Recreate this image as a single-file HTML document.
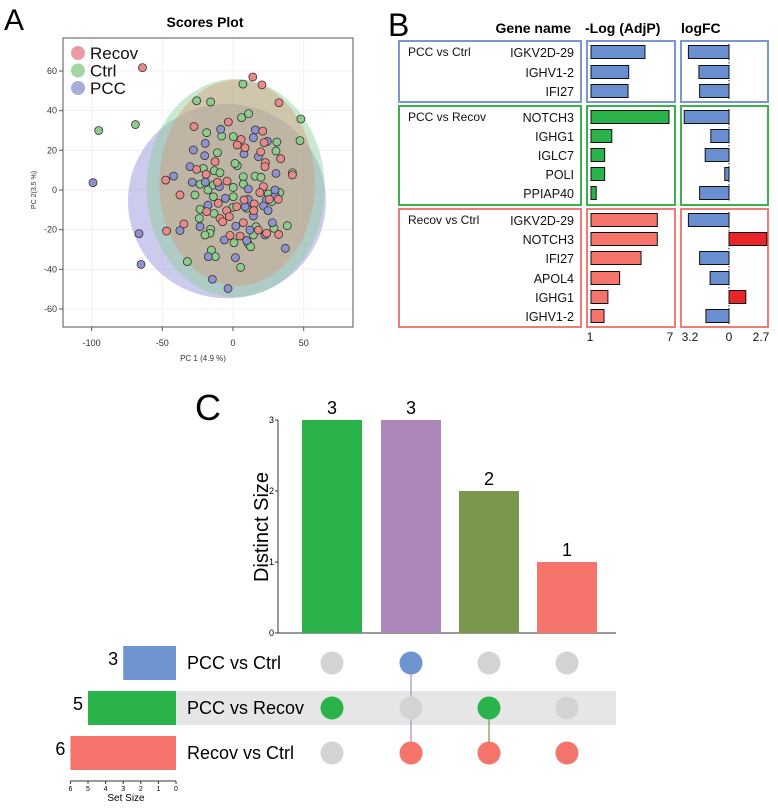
<!DOCTYPE html>
<html><head><meta charset="utf-8"><style>
html,body{margin:0;padding:0;background:#fff}
svg{display:block;font-family:"Liberation Sans",Arial,sans-serif}
</style></head><body>
<svg id="fig" width="778" height="809" viewBox="0 0 778 809" xmlns="http://www.w3.org/2000/svg">
<text x="4" y="30" font-size="30">A</text>
<text x="205" y="27" font-size="14" font-weight="bold" text-anchor="middle">Scores Plot</text>
<text x="388" y="36" font-size="32">B</text>
<text x="571" y="33" font-size="14" font-weight="bold" text-anchor="end">Gene name</text>
<text x="585" y="33" font-size="14" font-weight="bold">-Log (AdjP)</text>
<text x="681" y="33" font-size="14" font-weight="bold">logFC</text>
<text x="195" y="420" font-size="36">C</text>
<g id="pca"></g><g id="genes"></g><g id="upset"></g>
</svg>
<script>
const NS="http://www.w3.org/2000/svg";
function mk(p,t,a){const e=document.createElementNS(NS,t);for(const k in a)e.setAttribute(k,a[k]);p.appendChild(e);return e;}
// ---------- Panel A data ----------
const pcaGroups=["Recov","Ctrl","PCC"];
const recovPts=[[-64,61.7],[14,57],[20.5,53],[32.5,44],[-3.3,34.3],[-27.6,32],[5.7,25.5],[3,22.7],[8.5,21.3],[21,29.7],[22,23.9],[33.7,15.8],[19.6,19.3],[-12.7,14.3],[22.9,13.8],[22.6,11.8],[-25.7,10.4],[-47.6,5],[-37.5,-2.5],[-19,7.9],[-11,3.9],[-4.2,4.5],[21.5,1.7],[19,-1.3],[42,7.6],[32,-4.7],[15,-7],[14.6,-10.4],[7.8,-5],[2.6,-8.4],[-10.4,-6.7],[-18.6,-10.9],[-4.5,-10.4],[-2.6,-13.4],[-9.2,-14.3],[-7.3,-16],[-34.7,-17.1],[-47,-20.7],[7.3,-16.5],[17.9,-20.2],[23.8,-21.8],[32.3,-22.4],[-2.1,-22.9],[5,-23.2],[25.7,-4.7]];
const ctrlPts=[[-95,30],[-69,33],[7,53.4],[-25.7,45],[-15.8,44.4],[48,35.8],[47.4,24.9],[11,38.5],[6,36.5],[-18.6,28.9],[-8,27.2],[0.2,26.9],[31,24.2],[30.4,19.7],[-11,18.8],[3,12.3],[1.4,13.4],[-21,10.9],[-13.2,9.7],[-9.2,8.7],[-26.9,-2.5],[-23.3,2.9],[-17.7,0],[-13.9,2.5],[0.2,1.3],[7.3,6.7],[7.3,3],[15.6,7],[19.8,6.4],[25,-2],[42,8.7],[27.4,-5.9],[9.7,-9.2],[0.2,-3.4],[-13.9,-3.4],[-23.3,-9.7],[-13.4,-11.8],[0,-8.7],[-23.8,-14.3],[-15.8,-19.8],[-16.3,-21.8],[-19.8,-22.7],[16.3,-18.5],[14.4,-22.7],[29,-19.3],[38.4,-18],[0.7,-26.6],[10.8,-27.2],[12.5,-28.6],[-15.3,-30.3],[-12.5,-33.6],[-32.3,-36.1],[5.4,-39],[33,-1.3]];
const pccPts=[[-99,3.7],[-66.5,-22],[-65,-37.5],[-8.7,30.6],[15.8,30.3],[14.4,26.4],[24.3,24.5],[18,16.8],[7.8,18.2],[-28,20.2],[-19.6,23.5],[-20,17.3],[-30.4,11.8],[-42,7],[-28.8,3.9],[-19.6,4],[-9.7,1.7],[10.8,0.5],[29.7,-2.5],[30.4,8.4],[23.6,-5],[21.5,-8],[24.8,-10.4],[8.5,-8.4],[14.4,-13.1],[-5.4,-4.2],[-17.7,-7.6],[-23.3,-18.5],[-37.5,-20.5],[2,-18.2],[12,-20.2],[22.6,-22.7],[27.8,-16.5],[-6.1,-25.2],[9.7,-25.5],[37,-29.4],[-17.5,-33.6],[1.7,-34.1],[-14.6,-45],[-3.5,-49.7],[10.8,-4.7],[29.7,0]];
// ellipses: [cx, cy, rx, ry] in data units
const ellPCC=[-4.3,-5.6,70,49];
const ellCtrl=[1.8,1,63,55];
const ellRecov=[2.9,3.6,55,52];
const xTicksA=[-100,-50,0,50];
const yTicksA=[-60,-40,-20,0,20,40,60];
const X0=233,XS=1.414,Y0=190,YS=1.983;
const ax=v=>X0+v*XS, ay=v=>Y0-v*YS;
(function(){
 const g=document.getElementById('pca');
 const L=63,R=353,T=38,B=327;
 let r=mk(g,'rect',{x:L,y:T,width:R-L,height:B-T,fill:'#fff',stroke:'none'});
 
 xTicksA.forEach(t=>{mk(g,'line',{x1:ax(t),x2:ax(t),y1:T,y2:B,stroke:'#f0f0f0'});});
 yTicksA.forEach(t=>{mk(g,'line',{x1:L,x2:R,y1:ay(t),y2:ay(t),stroke:'#f0f0f0'});});
 const ells=[[ellPCC,'rgba(140,140,215,0.45)','ellipse-pcc'],[ellCtrl,'rgba(140,205,150,0.45)','ellipse-ctrl'],[ellRecov,'rgba(215,150,120,0.42)','ellipse-recov']];
 ells.forEach(([e,c,n])=>{const el=mk(g,'ellipse',{cx:ax(e[0]),cy:ay(e[1]),rx:e[2]*XS,ry:e[3]*YS,fill:c});
  });
 const sets=[[ctrlPts,'#8fcc8c'],[pccPts,'#8f92cc'],[recovPts,'#e88a88']];
 sets.forEach(([pts,c])=>pts.forEach(p=>{const el=mk(g,'circle',{cx:ax(p[0]),cy:ay(p[1]),r:4,fill:c,stroke:'#333','stroke-width':0.8});
  }));
 mk(g,'path',{d:`M${L},${T} H${R} V${B} H${L} Z`,fill:'none',stroke:'#555','stroke-width':1});
 xTicksA.forEach(t=>{mk(g,'line',{x1:ax(t),x2:ax(t),y1:B,y2:B+4,stroke:'#555'});
  const tx=mk(g,'text',{x:ax(t),y:346,'font-size':9,'text-anchor':'middle',fill:'#333'});tx.textContent=t;
  });
 yTicksA.forEach(t=>{mk(g,'line',{x1:59,x2:L,y1:ay(t),y2:ay(t),stroke:'#555'});
  const tx=mk(g,'text',{x:57,y:ay(t)+3,'font-size':9,'text-anchor':'end',fill:'#333'});tx.textContent=t;
  });
 let t=mk(g,'text',{x:203,y:361,'font-size':8,'text-anchor':'middle',fill:'#333'});t.textContent='PC 1 (4.9 %)';
 
 t=mk(g,'text',{x:0,y:0,'font-size':7,'text-anchor':'middle',fill:'#333',transform:'translate(36,190) rotate(-90)'});t.textContent='PC 2(3.5 %)';
 
 const lc=['#ee9aa4','#a4d6a4','#a9acd8'];
 pcaGroups.forEach((n,i)=>{const y=53+i*17.5;
  const c=mk(g,'circle',{cx:78,cy:y,r:7,fill:lc[i]});
  const tx=mk(g,'text',{x:90,y:y+6,'font-size':17,fill:'#111'});tx.textContent=n;
  });
})();
// ---------- Panel B data ----------
const groupNames=["PCC vs Ctrl","PCC vs Recov","Recov vs Ctrl"];
const geneNames=[["IGKV2D-29","IGHV1-2","IFI27"],["NOTCH3","IGHG1","IGLC7","POLI","PPIAP40"],["IGKV2D-29","NOTCH3","IFI27","APOL4","IGHG1","IGHV1-2"]];
const logAdjP=[[5.15,3.9,3.85],[7,2.6,2.05,2.05,1.4],[6.1,6.1,4.85,3.2,2.3,2.0]];
const logFC=[[-2.9,-2.15,-2.1],[-3.2,-1.3,-1.7,-0.3,-2.1],[-2.9,2.7,-2.1,-1.35,1.2,-1.65]];
(function(){
 const g=document.getElementById('genes');
 const boxes=[[41,102],[106,205],[209,327]];
 const rowsY=[[52,72,91],[117,136,155,174,193],[220,239,258,278,297,316]];
 const bc=['#7b97cf','#3bb04b','#ee7d75'];
 const fillP=['#6a8fd0','#2ab34a','#f5756c'];
 const pX=v=>591+(v-1)*13, fX=v=>729+v*14;
 boxes.forEach((b,i)=>{
  [[399,581,'gene-box'],[587,675,'adjp-box'],[681,768,'logfc-box']].forEach(([x1,x2,n])=>{
   const r=mk(g,'rect',{x:x1,y:b[0],width:x2-x1,height:b[1]-b[0],fill:'none',stroke:bc[i],'stroke-width':2});
   });
  mk(g,'line',{x1:729,x2:729,y1:b[0]+3,y2:b[1]-3,stroke:'#222','stroke-dasharray':'1.5,1.5','stroke-width':1});
  const gt=mk(g,'text',{x:408,y:rowsY[i][0]+4,'font-size':12,fill:'#111'});gt.textContent=groupNames[i];
  
  geneNames[i].forEach((gn,j)=>{const y=rowsY[i][j];
   const t=mk(g,'text',{x:574,y:y+5,'font-size':12.5,'text-anchor':'end',fill:'#111'});t.textContent=gn;
   
   const r=mk(g,'rect',{x:pX(1),y:y-6.5,width:pX(logAdjP[i][j])-pX(1),height:13,fill:fillP[i],stroke:'#111','stroke-width':1});
   
   const v=logFC[i][j];const x1=Math.min(fX(0),fX(v)),w=Math.abs(fX(v)-fX(0));
   const f=mk(g,'rect',{x:x1,y:y-6.5,width:w,height:13,fill:v<0?'#6a8fd0':'#e8262a',stroke:'#111','stroke-width':1});
   });
 });
 [[590,'1'],[670,'7'],[690,'3.2'],[729,'0'],[761,'2.7']].forEach(([x,s])=>{
  const t=mk(g,'text',{x:x,y:341,'font-size':12,'text-anchor':'middle',fill:'#111'});t.textContent=s;
  });
})();
// ---------- Panel C data ----------
const setNames=["PCC vs Ctrl","PCC vs Recov","Recov vs Ctrl"];
const setSizes=[3,5,6];
const interSizes=[3,3,2,1];
const interMembers=[[1],[0,2],[1,2],[2]];
const interTicks=[0,1,2,3];
const setTicks=[6,5,4,3,2,1,0];
(function(){
 const g=document.getElementById('upset');
 const by=v=>633-v*71, colX=[332,411,489,567];
 const cc=['#2ab34a','#ab87ba','#7a974d','#f5756c'];
 const setC=['#6f95d0','#2ab34a','#f5756c'];
 const rowY=[663,708,753];
 mk(g,'line',{x1:278,x2:278,y1:by(3),y2:633,stroke:'#333'});
 mk(g,'line',{x1:278,x2:616,y1:633,y2:633,stroke:'#333'});
 interTicks.forEach(t=>{mk(g,'line',{x1:275,x2:278,y1:by(t),y2:by(t),stroke:'#333'});
  const tx=mk(g,'text',{x:274,y:by(t)+3,'font-size':9,'text-anchor':'end'});tx.textContent=t;
  });
 const yt=mk(g,'text',{x:0,y:0,'font-size':20,'text-anchor':'middle',transform:'translate(268,527) rotate(-90)'});yt.textContent='Distinct Size';
 
 const band=mk(g,'rect',{x:176,y:691,width:440,height:34,fill:'#e6e6e6'});
 
 interSizes.forEach((v,i)=>{
  const r=mk(g,'rect',{x:colX[i]-30,y:by(v),width:60,height:633-by(v),fill:cc[i]});
  
  const t=mk(g,'text',{x:colX[i],y:by(v)-6,'font-size':18,'text-anchor':'middle'});t.textContent=v;
  
  const m=interMembers[i];
  if(m.length>1){mk(g,'line',{x1:colX[i],x2:colX[i],y1:rowY[m[0]],y2:rowY[m[m.length-1]],stroke:cc[i],'stroke-width':1.2});}
  rowY.forEach((y,k)=>{const on=m.includes(k);
   const c=mk(g,'circle',{cx:colX[i],cy:y,r:11.5,fill:on?setC[k]:'#d3d3d3'});
   });
 });
 const sx=v=>176-v*17.6;
 setSizes.forEach((v,k)=>{const y=rowY[k];
  const r=mk(g,'rect',{x:sx(v),y:y-17,width:176-sx(v),height:34,fill:setC[k]});
  
  const t=mk(g,'text',{x:sx(v)-5,y:y+2,'font-size':18,'text-anchor':'end'});t.textContent=v;
  
  const n=mk(g,'text',{x:187,y:y+6,'font-size':18});n.textContent=setNames[k];
  });
 mk(g,'line',{x1:sx(6),x2:176,y1:781,y2:781,stroke:'#333'});
 setTicks.forEach(t=>{mk(g,'line',{x1:sx(t),x2:sx(t),y1:781,y2:784,stroke:'#333'});
  const tx=mk(g,'text',{x:sx(t),y:791,'font-size':7,'text-anchor':'middle'});tx.textContent=t;
  });
 const st=mk(g,'text',{x:126,y:801,'font-size':10,'text-anchor':'middle'});st.textContent='Set Size';
 
})();
</script>
</body></html>
